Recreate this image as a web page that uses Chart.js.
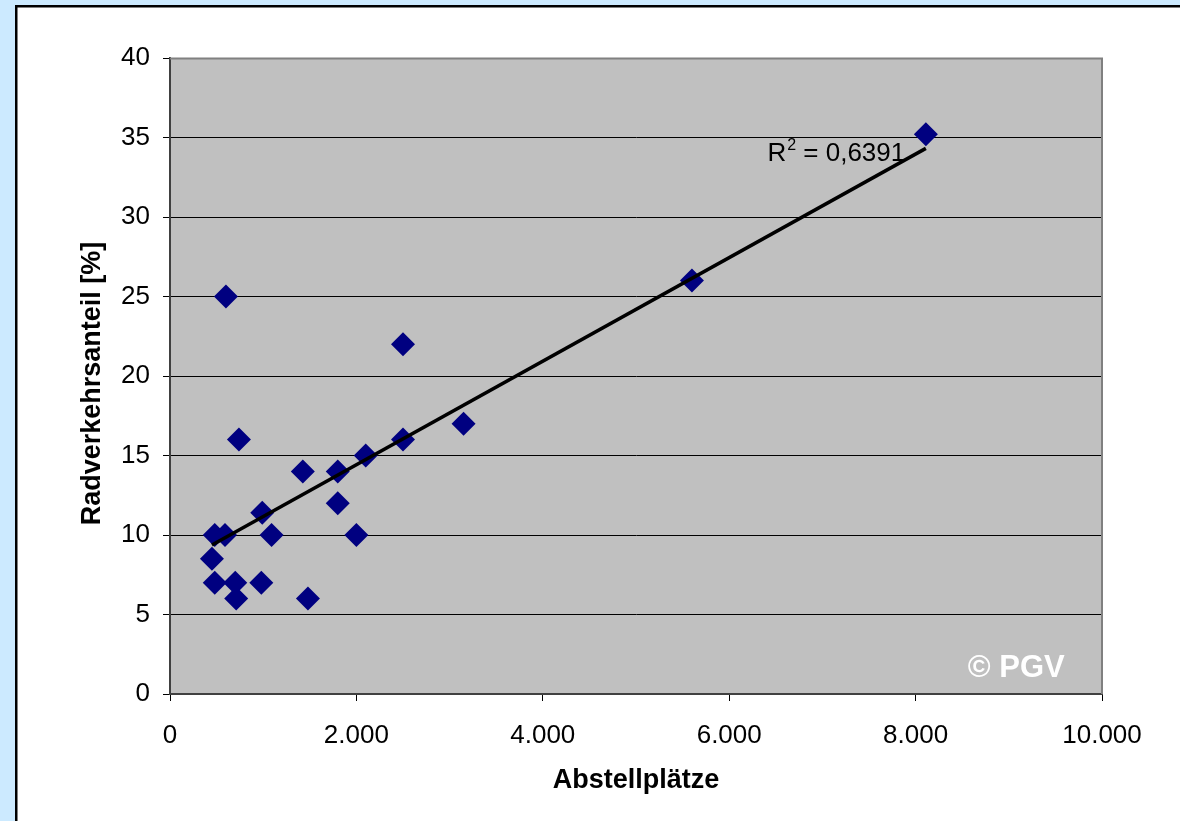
<!DOCTYPE html>
<html>
<head>
<meta charset="utf-8">
<script src="https://cdn.jsdelivr.net/npm/chart.js@4.4.1/dist/chart.umd.min.js"></script>
<style>
  html, body { margin: 0; padding: 0; background: #cceaff; }
  #wrap { position: absolute; left: 0; top: 0; width: 1180px; height: 821px; }
</style>
</head>
<body>
<div id="wrap"><canvas id="c" width="1180" height="821"></canvas></div>
<script>
// Data
const abstellplaetze = [600, 740, 1425, 1800, 1800, 2100, 2500, 2500, 2000, 3150, 5600, 8110, 990, 1090, 480, 590, 450, 480, 700, 980, 710, 1480];
const radverkehrsanteil = [25, 16, 14, 14, 12, 15, 22, 16, 10, 17, 26, 35.2, 11.4, 10, 10, 10, 8.5, 7, 7, 7, 6, 6];
const xTickValues = [0, 2000, 4000, 6000, 8000, 10000];
const xTickLabels = ['0', '2.000', '4.000', '6.000', '8.000', '10.000'];
const yTickLabels = ['0', '5', '10', '15', '20', '25', '30', '35', '40'];
const r2Label = '0,6391';
const xTitle = 'Abstellplätze';
const yTitle = 'Radverkehrsanteil [%]';
const copyright = '© PGV';

// Linear trend line (least squares) from the data
const n = abstellplaetze.length;
const mx = abstellplaetze.reduce((a, b) => a + b, 0) / n;
const my = radverkehrsanteil.reduce((a, b) => a + b, 0) / n;
let sxy = 0, sxx = 0;
for (let i = 0; i < n; i++) {
  sxy += (abstellplaetze[i] - mx) * (radverkehrsanteil[i] - my);
  sxx += (abstellplaetze[i] - mx) ** 2;
}
const slope = sxy / sxx;
const intercept = my - slope * mx;
const xMin = Math.min(...abstellplaetze), xMax = Math.max(...abstellplaetze);
const trend = [{x: xMin, y: intercept + slope * xMin}, {x: xMax, y: intercept + slope * xMax}];

const points = abstellplaetze.map((x, i) => ({x, y: radverkehrsanteil[i]}));

const FONT = "'Liberation Sans', Arial, sans-serif";

const framePlugin = {
  id: 'frame',
  beforeDraw(chart) {
    const ctx = chart.ctx;
    const a = chart.chartArea;
    ctx.save();
    ctx.fillStyle = '#cceaff';
    ctx.fillRect(0, 0, chart.width, chart.height);
    ctx.fillStyle = '#ffffff';
    ctx.fillRect(15, 5, chart.width - 15, chart.height - 5);
    ctx.fillStyle = '#000000';
    ctx.fillRect(15, 5, chart.width - 15, 2.5);
    ctx.fillRect(15, 5, 2.5, chart.height - 5);
    ctx.fillStyle = '#c0c0c0';
    ctx.fillRect(a.left, a.top, a.right - a.left, a.bottom - a.top);
    ctx.restore();
  },
  afterDatasetsDraw(chart) {
    const ctx = chart.ctx;
    const a = chart.chartArea;
    const xs = chart.scales.x, ys = chart.scales.y;
    ctx.save();
    ctx.strokeStyle = '#808080';
    ctx.lineWidth = 2;
    ctx.beginPath();
    ctx.moveTo(a.left, a.top + 0.5);
    ctx.lineTo(a.right, a.top + 0.5);
    ctx.lineTo(a.right, a.bottom);
    ctx.stroke();
    // R² label near trend end
    ctx.fillStyle = '#000000';
    ctx.textBaseline = 'alphabetic';
    ctx.textAlign = 'left';
    const lx = xs.getPixelForValue(6410);
    const ly = ys.getPixelForValue(33.5);
    ctx.font = '26px ' + FONT;
    ctx.fillText('R', lx, ly);
    const rw = ctx.measureText('R').width;
    ctx.font = '16px ' + FONT;
    ctx.fillText('2', lx + rw + 1, ly - 11);
    const sw = ctx.measureText('2').width;
    ctx.font = '26px ' + FONT;
    ctx.fillText(' = ' + r2Label, lx + rw + 1 + sw, ly);
    // copyright
    ctx.fillStyle = '#ffffff';
    ctx.font = 'bold 31px ' + FONT;
    ctx.textAlign = 'right';
    ctx.fillText(copyright, xs.getPixelForValue(9600), ys.getPixelForValue(1.1));
    ctx.restore();
  }
};

new Chart(document.getElementById('c'), {
  type: 'scatter',
  data: {
    datasets: [
      {
        label: 'Radverkehrsanteil',
        data: points,
        pointStyle: 'rectRot',
        pointRadius: 12,
        pointBackgroundColor: '#000080',
        pointBorderColor: '#000080',
        pointBorderWidth: 0,
        showLine: false,
        order: 2
      },
      {
        label: 'Trend',
        type: 'line',
        data: trend,
        borderColor: '#000000',
        borderWidth: 3.5,
        pointRadius: 0,
        fill: false,
        order: 1
      }
    ]
  },
  plugins: [framePlugin],
  options: {
    responsive: false,
    animation: false,
    devicePixelRatio: 1,
    layout: { padding: { left: 0, top: 58, right: 78, bottom: 0 } },
    plugins: { legend: { display: false }, tooltip: { enabled: false }, title: { display: false } },
    scales: {
      x: {
        type: 'linear',
        min: 0, max: 10000,
        afterBuildTicks(scale) { scale.ticks = xTickValues.map(v => ({value: v})); },
        afterFit(scale) { scale.height = 127; },
        ticks: {
          callback: (v) => { const i = xTickValues.indexOf(v); return i >= 0 ? xTickLabels[i] : ''; },
          font: { family: FONT, size: 26 },
          color: '#000000',
          padding: 19,
          maxRotation: 0,
          autoSkip: false
        },
        grid: { drawOnChartArea: false, drawTicks: true, tickLength: 7, tickColor: '#000000', tickWidth: 1 },
        border: { display: true, color: '#404040', width: 2 },
        title: {
          display: true, text: xTitle, color: '#000000',
          font: { family: FONT, size: 27, weight: 'bold' },
          padding: { top: 0, bottom: 24 }
        }
      },
      y: {
        type: 'linear',
        min: 0, max: 40,
        afterBuildTicks(scale) { scale.ticks = yTickLabels.map((t, i) => ({value: i * 5})); },
        afterFit(scale) { scale.width = 170; },
        ticks: {
          callback: (v) => yTickLabels[Math.round(v / 5)],
          font: { family: FONT, size: 26 },
          color: '#000000',
          padding: 13
        },
        grid: {
          drawOnChartArea: true, drawTicks: true, tickLength: 7, tickColor: '#000000',
          color: (c) => (c.tick && (c.tick.value === 40) ? '#808080' : (c.tick && c.tick.value === 0 ? 'rgba(0,0,0,0)' : '#000000')),
          lineWidth: 1
        },
        border: { display: true, color: '#404040', width: 2 },
        title: {
          display: true, text: yTitle + '  ', color: '#000000',
          font: { family: FONT, size: 27, weight: 'bold' },
          padding: { top: 76, bottom: 0 }
        }
      }
    }
  }
});
</script>
</body>
</html>
